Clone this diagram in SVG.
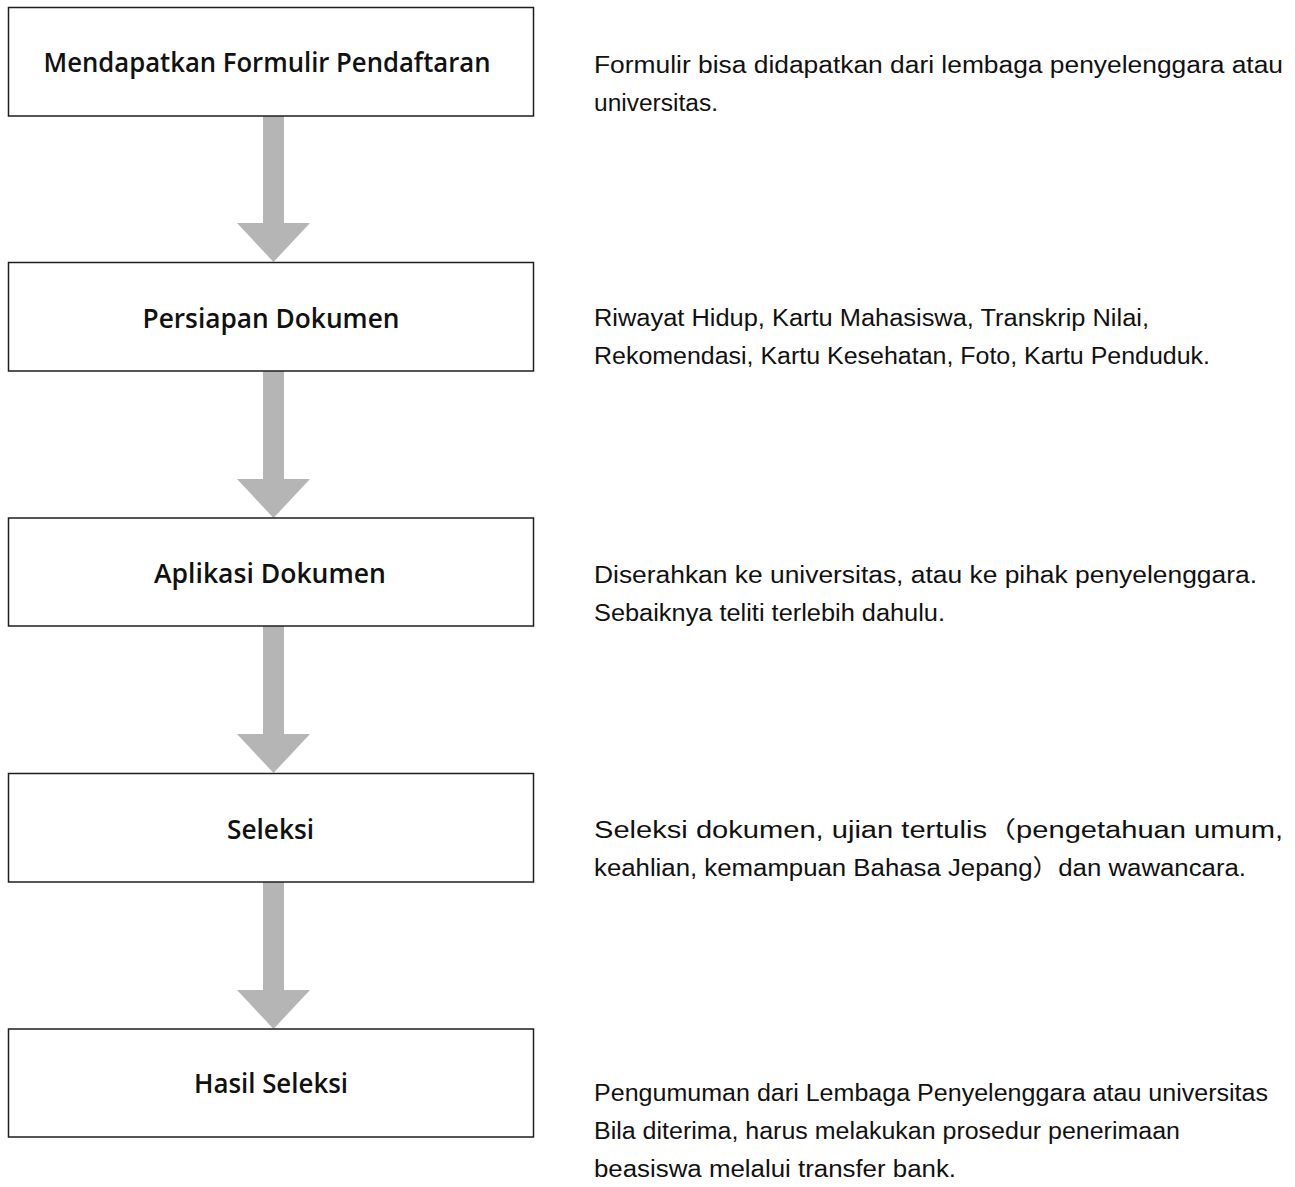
<svg xmlns="http://www.w3.org/2000/svg" width="1295" height="1187" viewBox="0 0 1295 1187">
<style>
.box{fill:#fff;stroke:#1e1e1e;stroke-width:1.5}
.lbl{font-family:"Open Sans","Noto Sans",sans-serif;font-weight:600;font-size:27px;fill:#111;text-anchor:middle}
.desc{font-family:"Liberation Sans","Noto Sans CJK JP",sans-serif;font-size:23px;fill:#111}
.arr{fill:#b5b5b5}
</style>
<rect width="1295" height="1187" fill="#fff"/>
<g id="connectors">
<path class="arr" d="M263,116 H284 V223 H310 L273.5,262 L237,223 H263 Z"/>
<path class="arr" d="M263,371 H284 V479 H310 L273.5,518 L237,479 H263 Z"/>
<path class="arr" d="M263,626 H284 V734 H310 L273.5,773 L237,734 H263 Z"/>
<path class="arr" d="M263,882 H284 V990 H310 L273.5,1029 L237,990 H263 Z"/>
</g>
<g id="n1"><rect class="box" x="8.5" y="7.5" width="525" height="108.5"/><text class="lbl" x="267" y="72" textLength="447" lengthAdjust="spacingAndGlyphs">Mendapatkan Formulir Pendaftaran</text></g>
<g id="n2"><rect class="box" x="8.5" y="262.5" width="525" height="108.5"/><text class="lbl" x="271" y="328" textLength="257" lengthAdjust="spacingAndGlyphs">Persiapan Dokumen</text></g>
<g id="n3"><rect class="box" x="8.5" y="518" width="525" height="108"/><text class="lbl" x="270" y="583" textLength="232" lengthAdjust="spacingAndGlyphs">Aplikasi Dokumen</text></g>
<g id="n4"><rect class="box" x="8.5" y="773.5" width="525" height="108.5"/><text class="lbl" x="270.5" y="839" textLength="87" lengthAdjust="spacingAndGlyphs">Seleksi</text></g>
<g id="n5"><rect class="box" x="8.5" y="1029" width="525" height="108"/><text class="lbl" x="271" y="1093" textLength="154" lengthAdjust="spacingAndGlyphs">Hasil Seleksi</text></g>
<g id="d1"><text class="desc" x="594" y="73" textLength="689" lengthAdjust="spacingAndGlyphs">Formulir bisa didapatkan dari lembaga penyelenggara atau</text><text class="desc" x="594" y="111" textLength="124" lengthAdjust="spacingAndGlyphs">universitas.</text></g>
<g id="d2"><text class="desc" x="594" y="326" textLength="555" lengthAdjust="spacingAndGlyphs">Riwayat Hidup, Kartu Mahasiswa, Transkrip Nilai,</text><text class="desc" x="594" y="364" textLength="616" lengthAdjust="spacingAndGlyphs">Rekomendasi, Kartu Kesehatan, Foto, Kartu Penduduk.</text></g>
<g id="d3"><text class="desc" x="594" y="583" textLength="663" lengthAdjust="spacingAndGlyphs">Diserahkan ke universitas, atau ke pihak penyelenggara.</text><text class="desc" x="594" y="621" textLength="351" lengthAdjust="spacingAndGlyphs">Sebaiknya teliti terlebih dahulu.</text></g>
<g id="d4"><text class="desc" x="594" y="838" textLength="689" lengthAdjust="spacingAndGlyphs">Seleksi dokumen, ujian tertulis（pengetahuan umum,</text><text class="desc" x="594" y="876" textLength="652" lengthAdjust="spacingAndGlyphs">keahlian, kemampuan Bahasa Jepang）dan wawancara.</text></g>
<g id="d5"><text class="desc" x="594" y="1101" textLength="674" lengthAdjust="spacingAndGlyphs">Pengumuman dari Lembaga Penyelenggara atau universitas</text><text class="desc" x="594" y="1139" textLength="586" lengthAdjust="spacingAndGlyphs">Bila diterima, harus melakukan prosedur penerimaan</text><text class="desc" x="594" y="1177" textLength="362" lengthAdjust="spacingAndGlyphs">beasiswa melalui transfer bank.</text></g>
</svg>
